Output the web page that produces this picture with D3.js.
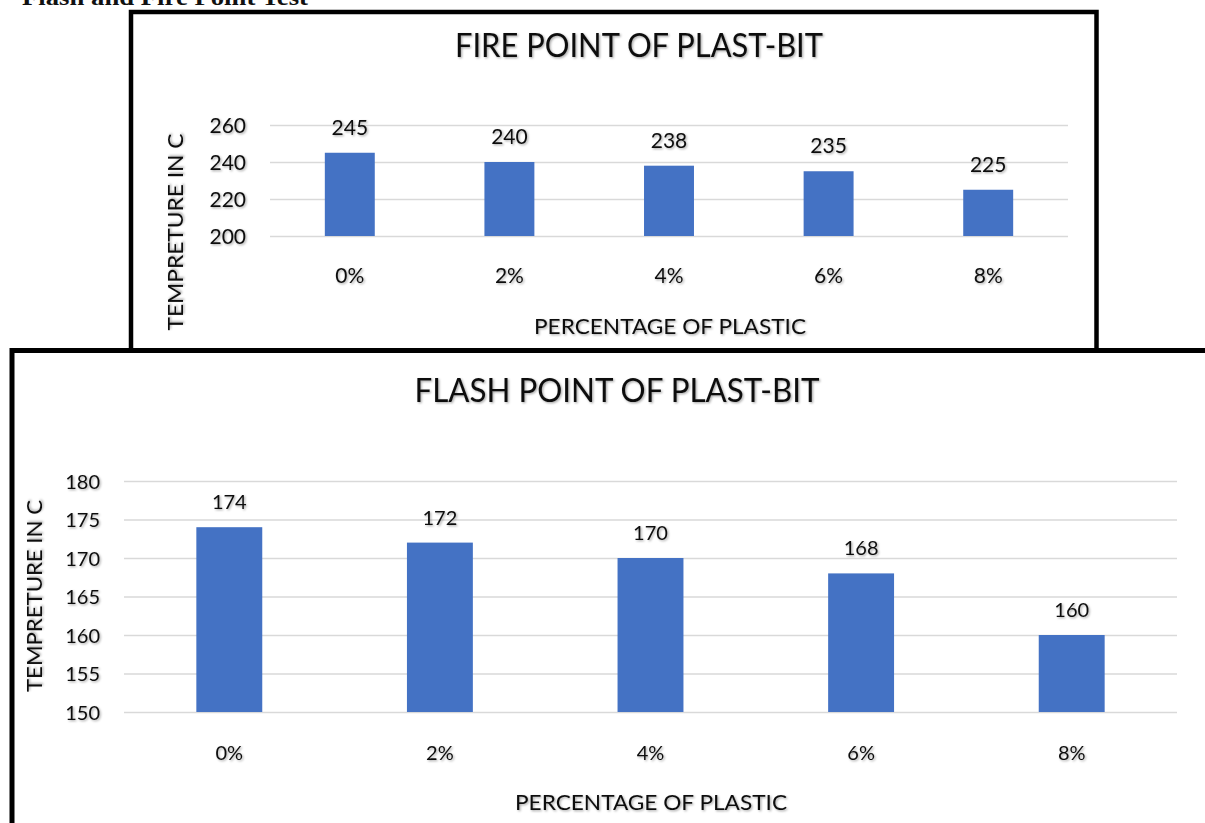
<!DOCTYPE html>
<html>
<head>
<meta charset="utf-8">
<script src="https://cdn.jsdelivr.net/npm/d3@7"></script>
<style>
  html, body { margin: 0; padding: 0; background: #fff; overflow: hidden; }
  svg { display: block; }
  text { font-family: Lato, "Open Sans", sans-serif; fill: #111; }
</style>
</head>
<body>
<svg id="page" width="1205" height="823"></svg>
<script>
// Percentage of plastic added to the bitumen
const categories = ["0%", "2%", "4%", "6%", "8%"];
// Fire point (°C) per blend
const fireValues = [245, 240, 238, 235, 225];
// Flash point (°C) per blend
const flashValues = [174, 172, 170, 168, 160];
// Axis tick values
const fireTicks = [200, 220, 240, 260];
const flashTicks = [150, 155, 160, 165, 170, 175, 180];

const svg = d3.select("#page");

// soft text shadow used by the chart text
const defs = svg.append("defs");
const f = defs.append("filter").attr("id", "tshadow")
  .attr("x", "-10%").attr("y", "-20%").attr("width", "130%").attr("height", "160%");
f.append("feDropShadow").attr("dx", 1.2).attr("dy", 1.2).attr("stdDeviation", 0.9)
  .attr("flood-color", "#000").attr("flood-opacity", 0.35);

// Section heading, mostly scrolled above the top edge
svg.append("text")
  .attr("x", 22).attr("y", 5)
  .attr("textLength", 286).attr("lengthAdjust", "spacingAndGlyphs")
  .style("font-family", "'Liberation Serif', 'Times New Roman', serif")
  .style("font-weight", "bold").style("font-size", "24px")
  .text("Flash and Fire Point Test");

function drawChart(cfg) {
  const g = svg.append("g");

  // frame
  g.append("rect")
    .attr("x", cfg.frame[0]).attr("y", cfg.frame[1])
    .attr("width", cfg.frame[2]).attr("height", cfg.frame[3])
    .attr("fill", "#fff").attr("stroke", "#000").attr("stroke-width", cfg.frameStroke);

  const x = d3.scaleBand().domain(categories)
    .range([cfg.left, cfg.right]).paddingInner(0.687).paddingOuter(0.3435);
  const y = d3.scaleLinear().domain(cfg.domain).range([cfg.bottom, cfg.top]);

  // gridlines
  const grid = g.append("g").attr("transform", `translate(${cfg.left},0)`)
    .call(d3.axisLeft(y).tickValues(cfg.ticks).tickSize(-(cfg.right - cfg.left)).tickFormat(""));
  grid.select(".domain").remove();
  grid.selectAll(".tick line").attr("stroke", "#d9d9d9").attr("stroke-width", 1.5);

  // y tick labels
  const ya = g.append("g").attr("transform", `translate(${cfg.tickRight},0)`)
    .call(d3.axisLeft(y).tickValues(cfg.ticks).tickSize(0).tickPadding(0));
  ya.select(".domain").remove();
  ya.selectAll(".tick text")
    .attr("dy", cfg.tickDy).attr("filter", "url(#tshadow)")
    .style("font-size", cfg.tickSize + "px").attr("fill", "#111");

  // bars
  g.append("g").selectAll("rect").data(cfg.values).join("rect")
    .attr("x", (d, i) => x(categories[i]))
    .attr("width", x.bandwidth())
    .attr("y", d => y(d))
    .attr("height", d => cfg.bottom - y(d))
    .attr("fill", "#4472c4");

  // value labels
  g.append("g").selectAll("text").data(cfg.values).join("text")
    .attr("x", (d, i) => x(categories[i]) + x.bandwidth() / 2)
    .attr("y", d => y(d) - 18)
    .attr("text-anchor", "middle")
    .attr("filter", "url(#tshadow)")
    .style("font-size", cfg.tickSize + "px")
    .text(d => d);

  // category labels
  const xa = g.append("g").attr("transform", `translate(0,${cfg.catY})`)
    .call(d3.axisBottom(x).tickSize(0).tickPadding(0));
  xa.select(".domain").remove();
  xa.selectAll(".tick text")
    .attr("dy", 0).attr("filter", "url(#tshadow)")
    .style("font-size", cfg.tickSize + "px").attr("fill", "#111");

  // chart title
  g.append("text")
    .attr("x", cfg.titleX).attr("y", cfg.titleY)
    .attr("text-anchor", "middle")
    .attr("textLength", cfg.titleW).attr("lengthAdjust", "spacingAndGlyphs")
    .attr("filter", "url(#tshadow)")
    .style("font-size", "32px")
    .text(cfg.title);

  // x axis title
  g.append("text")
    .attr("x", cfg.xTitleX).attr("y", cfg.xTitleY)
    .attr("text-anchor", "middle")
    .attr("textLength", 272).attr("lengthAdjust", "spacingAndGlyphs")
    .attr("filter", "url(#tshadow)")
    .style("font-size", "22px")
    .text("PERCENTAGE OF PLASTIC");

  // y axis title
  g.append("text")
    .attr("transform", `translate(${cfg.yTitleX},${cfg.yTitleY}) rotate(-90)`)
    .attr("text-anchor", "middle")
    .attr("textLength", cfg.yTitleW).attr("lengthAdjust", "spacingAndGlyphs")
    .attr("filter", "url(#tshadow)")
    .style("font-size", "22px")
    .text("TEMPRETURE IN C");
}

// Fire point chart (upper)
drawChart({
  frame: [131, 12, 965.5, 345], frameStroke: 4.5,
  left: 270, right: 1068, top: 125, bottom: 236,
  domain: [200, 260], ticks: fireTicks, values: fireValues,
  tickRight: 246, tickDy: "0.35em", tickSize: 21,
  catY: 283,
  title: "FIRE POINT OF PLAST-BIT", titleX: 639, titleY: 57, titleW: 368,
  xTitleX: 670, xTitleY: 334,
  yTitleX: 183, yTitleY: 232, yTitleW: 197
});

// Flash point chart (lower)
drawChart({
  frame: [12, 350.5, 1300, 600], frameStroke: 5,
  left: 124, right: 1177, top: 481, bottom: 712,
  domain: [150, 180], ticks: flashTicks, values: flashValues,
  tickRight: 100, tickDy: "0.35em", tickSize: 20,
  catY: 760,
  title: "FLASH POINT OF PLAST-BIT", titleX: 617, titleY: 402, titleW: 405,
  xTitleX: 651, xTitleY: 810,
  yTitleX: 42, yTitleY: 596, yTitleW: 192
});
</script>
</body>
</html>
